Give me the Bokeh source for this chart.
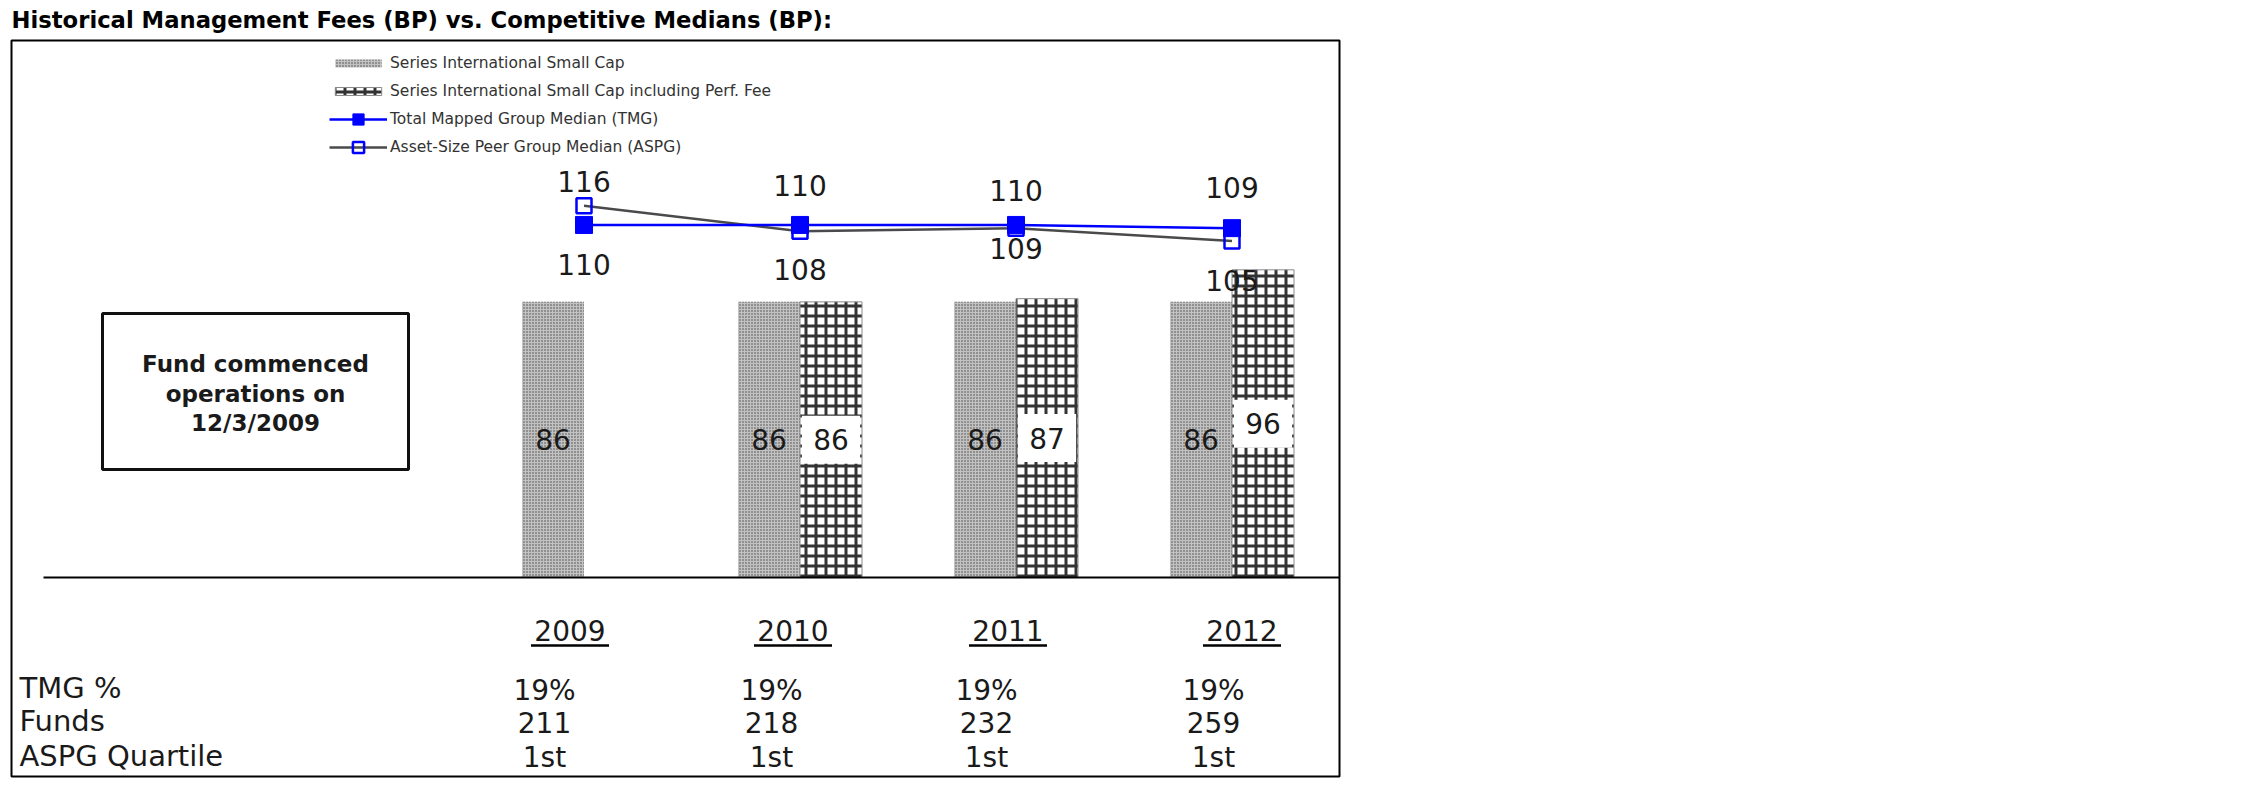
import numpy as np
from bokeh.plotting import figure
from bokeh.models import Range1d, Legend, LegendItem, ColumnDataSource, BoxAnnotation
from bokeh.core.properties import value
from bokeh.embed import file_html
from bokeh.resources import INLINE

# ---------------- data ----------------
title_text = "Historical Management Fees (BP) vs. Competitive Medians (BP):"
years = ["2009", "2010", "2011", "2012"]
fee = [86, 86, 86, 86]                 # Series International Small Cap
fee_perf = [None, 86, 87, 96]          # ... including Perf. Fee
tmg = [110, 110, 110, 109]             # Total Mapped Group Median
aspg = [116, 108, 109, 105]            # Asset-Size Peer Group Median
tmg_pct = ["19%", "19%", "19%", "19%"]
funds = ["211", "218", "232", "259"]
aspg_quartile = ["1st", "1st", "1st", "1st"]
row_labels = ["TMG %", "Funds", "ASPG Quartile"]
note_lines = ["Fund commenced", "operations on", "12/3/2009"]
legend_labels = ["Series International Small Cap",
                 "Series International Small Cap including Perf. Fee",
                 "Total Mapped Group Median (TMG)",
                 "Asset-Size Peer Group Median (ASPG)"]

# ---------------- layout (page pixels) ----------------
W, H = 1345, 780
ORG = 0
X0, DX = 583.5, 216.0      # pixel of first category, pixels per category
Y0, DY = 577.0, 3.205      # pixel of value 0, pixels per bp

def sx(px):
    return (px - X0) / DX

def sy(py):
    return (Y0 - py) / DY

FONT = value("DejaVu Sans")
TXT = "#1a1a1a"

p = figure(width=W, height=H, x_range=Range1d(sx(ORG), sx(ORG + W)),
           y_range=Range1d(sy(ORG + H), sy(ORG)), min_border=0,
           toolbar_location=None, output_backend="svg",
           x_axis_type=None, y_axis_type=None, outline_line_color=None)
p.grid.visible = False
p.background_fill_color = "white"
p.border_fill_color = "white"

idx = np.arange(len(years))

# outer frame and note box
p.add_layout(BoxAnnotation(left=sx(11), right=sx(1339), top=sy(40), bottom=sy(776),
                           fill_color=None, line_color="black", line_alpha=1,
                           line_width=2, level="underlay"))
p.add_layout(BoxAnnotation(left=sx(102), right=sx(408), top=sy(313), bottom=sy(469),
                           fill_color="white", fill_alpha=1, line_color="#111111",
                           line_alpha=1, line_width=3, level="underlay"))
p.text(x=[sx(255)] * 3, y=[sy(363), sy(393), sy(422)], text=note_lines,
       text_align="center", text_baseline="middle", text_font=FONT,
       text_font_style="bold", text_font_size="23px", text_color=TXT)

# title
p.text(x=[sx(11)], y=[sy(19)], text=[title_text], text_align="left",
       text_baseline="middle", text_font=FONT, text_font_style="bold",
       text_font_size="22.7px", text_color="black")

# bars
BW = 62.0 / DX
grey_src = ColumnDataSource(dict(x=idx - BW / 2, top=fee, mid=[v / 2 for v in fee],
                                 label=[str(v) for v in fee]))
pi = [i for i, v in enumerate(fee_perf) if v is not None]
perf_src = ColumnDataSource(dict(x=[i + BW / 2 for i in pi], top=[fee_perf[i] for i in pi],
                                 mid=[fee_perf[i] / 2 for i in pi],
                                 label=[str(fee_perf[i]) for i in pi]))
r_grey = p.vbar(x="x", top="top", bottom=0, width=BW, source=grey_src,
                fill_color="#c2c2c2", line_color=None, hatch_pattern="dot",
                hatch_color="#454545", hatch_scale=3, hatch_weight=1)
r_perf = p.vbar(x="x", top="top", bottom=0, width=BW, source=perf_src,
                fill_color="white", line_color="#8a8a8a", line_width=1,
                hatch_pattern="cross", hatch_color="#333333", hatch_scale=10,
                hatch_weight=3)
p.rect(x="x", y="mid", width=BW * 0.94, height=48, height_units="screen",
       source=perf_src, fill_color="white", line_color=None)
p.text(x="x", y="mid", text="label", source=grey_src, text_align="center",
       text_baseline="middle", text_font=FONT, text_font_size="28px", text_color=TXT)
p.text(x="x", y="mid", text="label", source=perf_src, text_align="center",
       text_baseline="middle", text_font=FONT, text_font_size="28px", text_color=TXT)

# line value labels (offsets in px, + = below)
tmg_dy = [40, -39, -34, -41]
aspg_dy = [-24, 38, 20, 40]
p.text(x=idx, y=[v - d / DY for v, d in zip(tmg, tmg_dy)], text=[str(v) for v in tmg],
       text_align="center", text_baseline="middle", text_font=FONT,
       text_font_size="28px", text_color=TXT)
p.text(x=idx, y=[v - d / DY for v, d in zip(aspg, aspg_dy)], text=[str(v) for v in aspg],
       text_align="center", text_baseline="middle", text_font=FONT,
       text_font_size="28px", text_color=TXT)

# baseline
p.segment(x0=[sx(43)], x1=[sx(1339)], y0=[0], y1=[0], line_color="black", line_width=2)

# median lines
l_aspg = p.line(idx, aspg, line_color="#4a4a4a", line_width=2.5)
l_tmg = p.line(idx, tmg, line_color="#0000ff", line_width=2.5)
m_aspg = p.scatter(idx, aspg, marker="square", size=15, fill_color="white", fill_alpha=0,
                   line_color="#0000ff", line_width=2.5)
m_tmg = p.scatter(idx, tmg, marker="square", size=17, fill_color="#0000ff",
                  line_color="#0000ff")

# legends
leg_common = dict(background_fill_alpha=0, border_line_color=None, padding=0, margin=0,
                  label_standoff=3, glyph_width=58, label_text_font="DejaVu Sans",
                  label_text_font_size="15.5px", label_text_color="#333333")
leg1 = Legend(items=[LegendItem(label=legend_labels[0], renderers=[r_grey]),
                     LegendItem(label=legend_labels[1], renderers=[r_perf])],
              location=(329, H - 100), glyph_height=10, label_height=18, spacing=10,
              **leg_common)
leg2 = Legend(items=[LegendItem(label=legend_labels[2], renderers=[l_tmg, m_tmg]),
                     LegendItem(label=legend_labels[3], renderers=[l_aspg, m_aspg])],
              location=(329, H - 161), glyph_height=28, label_height=28, spacing=0,
              **leg_common)
p.add_layout(leg1)
p.add_layout(leg2)

# table
hdr_dx = [-14, -7, -8, 10]
hx = [i + d / DX for i, d in zip(idx, hdr_dx)]
p.text(x=hx, y=[sy(630)] * 4, text=years, text_align="center", text_baseline="middle",
       text_font=FONT, text_font_size="28px", text_color=TXT)
p.segment(x0=[x - 39 / DX for x in hx], x1=[x + 39 / DX for x in hx],
          y0=[sy(645)] * 4, y1=[sy(645)] * 4, line_color="black", line_width=2.5)

val_dx = [-39.5, -28.5, -29.5, -18.5]
vx = [i + d / DX for i, d in zip(idx, val_dx)]
for row, ypx in zip([tmg_pct, funds, aspg_quartile], [690, 722, 757]):
    p.text(x=vx, y=[sy(ypx)] * 4, text=row, text_align="center", text_baseline="middle",
           text_font=FONT, text_font_size="28px", text_color=TXT)
p.text(x=[sx(19)] * 3, y=[sy(687), sy(720), sy(755)], text=row_labels, text_align="left",
       text_baseline="middle", text_font=FONT, text_font_size="29px", text_color=TXT)

open("out.html", "w").write(file_html(p, INLINE))
